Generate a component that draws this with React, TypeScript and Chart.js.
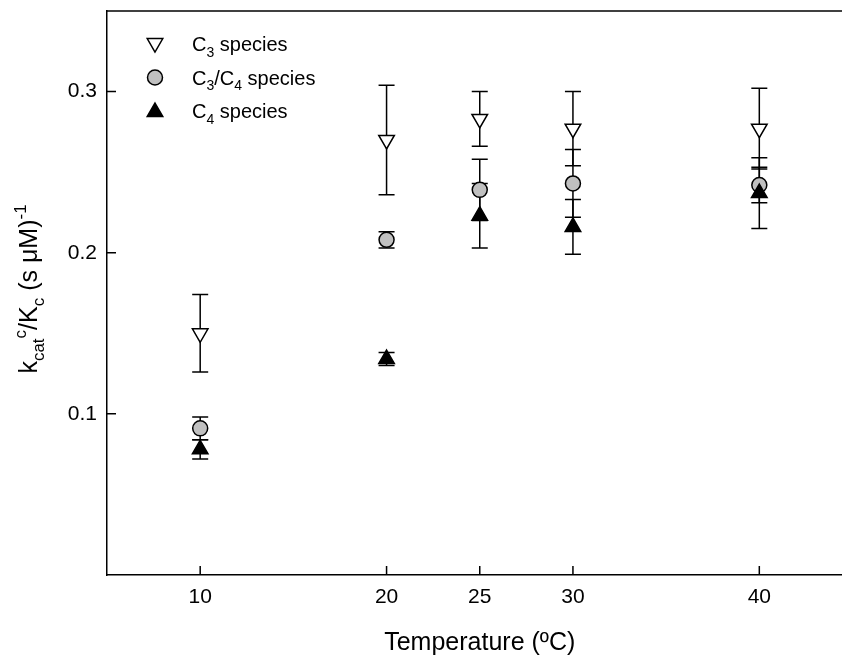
import React, { useEffect, useRef } from 'react';
import { Chart, registerables } from 'chart.js';

Chart.register(...registerables);

// ---------- data ----------
const temperatures = [10, 20, 25, 30, 40];

const c3Mean = [0.15, 0.27, 0.283, 0.277, 0.277];
const c3Err = [0.024, 0.034, 0.017, 0.023, 0.025];

const c3c4Mean = [0.091, 0.208, 0.239, 0.243, 0.242];
const c3c4Err = [0.007, 0.005, 0.019, 0.021, 0.011];

const c4Mean = [0.078, 0.134, 0.223, 0.216, 0.237];
const c4Err = [0.006, 0.004, 0.02, 0.017, 0.022];

const xTickValues = [10, 20, 25, 30, 40];
const yTickValues = [0.1, 0.2, 0.3];

const seriesNames = ['C3 species', 'C3/C4 species', 'C4 species'];
// rich-text legend pieces (n = normal, sub = subscript)
const legendPieces = [
  [['C', 'n'], ['3', 'sub'], [' species', 'n']],
  [['C', 'n'], ['3', 'sub'], ['/C', 'n'], ['4', 'sub'], [' species', 'n']],
  [['C', 'n'], ['4', 'sub'], [' species', 'n']],
];
const yTitlePieces = [
  ['k', 'n'], ['cat', 'sub'], ['c', 'sup'], ['/K', 'n'], ['c', 'sub'], [' (s \u03BCM)', 'n'], ['-1', 'sup'],
];
const xTitle = 'Temperature (\u00BAC)';

const FONT = '"Liberation Sans", Arial, Helvetica, sans-serif';

type Piece = [string, string];

function richWidth(ctx: CanvasRenderingContext2D, pieces: Piece[], size: number) {
  let w = 0;
  for (const [t, k] of pieces) {
    const s = k === 'n' ? size : Math.round(size * 0.68);
    ctx.font = `${s}px ${FONT}`;
    w += ctx.measureText(t).width;
  }
  return w;
}

function drawRich(ctx: CanvasRenderingContext2D, pieces: Piece[], x: number, y: number, size: number) {
  let cx = x;
  ctx.textAlign = 'left';
  ctx.textBaseline = 'alphabetic';
  for (const [t, k] of pieces) {
    const s = k === 'n' ? size : Math.round(size * 0.68);
    ctx.font = `${s}px ${FONT}`;
    let dy = 0;
    if (k === 'sub') dy = size * 0.28;
    if (k === 'sup') dy = -size * 0.45;
    ctx.fillText(t, cx, y + dy);
    cx += ctx.measureText(t).width;
  }
}

function drawMarker(ctx: CanvasRenderingContext2D, style: string, x: number, y: number, r: number, fill: string) {
  ctx.beginPath();
  if (style === 'circle') {
    ctx.arc(x, y, r, 0, Math.PI * 2);
  } else {
    const down = style === 'triangleDown';
    let rad = down ? Math.PI : 0;
    const step = (2 * Math.PI) / 3;
    ctx.moveTo(x + Math.sin(rad) * r, y - Math.cos(rad) * r);
    rad += step;
    ctx.lineTo(x + Math.sin(rad) * r, y - Math.cos(rad) * r);
    rad += step;
    ctx.lineTo(x + Math.sin(rad) * r, y - Math.cos(rad) * r);
    ctx.closePath();
  }
  ctx.fillStyle = fill;
  ctx.fill();
  ctx.lineWidth = 1.5;
  ctx.strokeStyle = '#000';
  ctx.stroke();
}

const errorBarPlugin = {
  id: 'errorBars',
  beforeDatasetsDraw(chart: any) {
    const ctx = chart.ctx as CanvasRenderingContext2D;
    const xs = chart.scales.x;
    const ys = chart.scales.y;
    ctx.save();
    ctx.strokeStyle = '#000';
    ctx.lineWidth = 1.5;
    chart.data.datasets.forEach((ds: any) => {
      ds.data.forEach((d: any) => {
        const x = xs.getPixelForValue(d.x);
        const yt = ys.getPixelForValue(d.y + d.err);
        const yb = ys.getPixelForValue(d.y - d.err);
        ctx.beginPath();
        ctx.moveTo(x, yt);
        ctx.lineTo(x, yb);
        ctx.moveTo(x - 8, yt);
        ctx.lineTo(x + 8, yt);
        ctx.moveTo(x - 8, yb);
        ctx.lineTo(x + 8, yb);
        ctx.stroke();
      });
    });
    ctx.restore();
  },
};

const framePlugin = {
  id: 'frame',
  afterDraw(chart: any) {
    const ctx = chart.ctx as CanvasRenderingContext2D;
    const { left, right, top, bottom } = chart.chartArea;
    const xs = chart.scales.x;
    const ys = chart.scales.y;
    ctx.save();
    ctx.strokeStyle = '#000';
    ctx.lineWidth = 1.5;
    // top border
    ctx.beginPath();
    ctx.moveTo(left, top);
    ctx.lineTo(right, top);
    ctx.stroke();
    // inward ticks
    ctx.beginPath();
    xTickValues.forEach((v) => {
      const x = xs.getPixelForValue(v);
      ctx.moveTo(x, bottom);
      ctx.lineTo(x, bottom - 9);
    });
    yTickValues.forEach((v) => {
      const y = ys.getPixelForValue(v);
      ctx.moveTo(left, y);
      ctx.lineTo(left + 9, y);
    });
    ctx.stroke();

    // y-axis title
    ctx.fillStyle = '#000';
    const size = 25;
    const w = richWidth(ctx, yTitlePieces as Piece[], size);
    ctx.save();
    ctx.translate(37, (top + bottom) / 2 - 4);
    ctx.rotate(-Math.PI / 2);
    drawRich(ctx, yTitlePieces as Piece[], -w / 2, 0, size);
    ctx.restore();

    // legend
    const styles = ['triangleDown', 'circle', 'triangle'];
    const fills = ['#ffffff', '#c0c0c0', '#000000'];
    const radii = [9, 7.5, 9];
    legendPieces.forEach((pieces, i) => {
      const cy = top + 33 + i * 33.5;
      const mx = left + 48;
      drawMarker(ctx, styles[i], mx, cy + (i === 0 ? -1 : i === 2 ? 1 : 0), radii[i], fills[i]);
      ctx.fillStyle = '#000';
      drawRich(ctx, pieces as Piece[], left + 85, cy + 7, 20);
    });
    ctx.restore();
  },
};

export default function App() {
  const canvasRef = useRef<HTMLCanvasElement | null>(null);

  useEffect(() => {
    document.body.style.margin = '0';
    const canvas = canvasRef.current;
    if (!canvas) return;

    const mk = (mean: number[], err: number[]) =>
      temperatures.map((t, i) => ({ x: t, y: mean[i], err: err[i] }));

    const chart = new Chart(canvas, {
      type: 'scatter',
      data: {
        datasets: [
          {
            label: seriesNames[0],
            data: mk(c3Mean, c3Err),
            pointStyle: 'triangle',
            rotation: 180,
            pointRadius: 9,
            backgroundColor: '#ffffff',
            borderColor: '#000000',
            pointBorderWidth: 1.5,
            order: 3,
          },
          {
            label: seriesNames[1],
            data: mk(c3c4Mean, c3c4Err),
            pointStyle: 'circle',
            pointRadius: 7.5,
            backgroundColor: '#c0c0c0',
            borderColor: '#000000',
            pointBorderWidth: 1.5,
            order: 2,
          },
          {
            label: seriesNames[2],
            data: mk(c4Mean, c4Err),
            pointStyle: 'triangle',
            pointRadius: 9,
            backgroundColor: '#000000',
            borderColor: '#000000',
            pointBorderWidth: 1.5,
            order: 1,
          },
        ] as any,
      },
      options: {
        animation: false,
        responsive: false,
        maintainAspectRatio: false,
        devicePixelRatio: 1,
        layout: { padding: { top: 11, right: 4, left: 0, bottom: 0 } },
        plugins: {
          legend: { display: false },
          tooltip: { enabled: false },
        },
        scales: {
          x: {
            type: 'linear',
            min: 5,
            max: 45,
            afterBuildTicks: (s: any) => {
              s.ticks = xTickValues.map((v) => ({ value: v }));
            },
            afterFit: (s: any) => {
              s.height = 83;
              s.paddingLeft = 0;
              s.paddingRight = 0;
            },
            grid: { display: false, drawTicks: false },
            border: { display: true, color: '#000', width: 1.5 },
            ticks: {
              color: '#000',
              padding: 10,
              maxRotation: 0,
              autoSkip: false,
              font: { family: FONT, size: 21 },
              callback: (v: any) => String(v),
            },
            title: {
              display: true,
              text: xTitle,
              color: '#000',
              font: { family: FONT, size: 25 },
              padding: { top: 0, bottom: 0 },
            },
          },
          y: {
            type: 'linear',
            min: 0,
            max: 0.35,
            afterBuildTicks: (s: any) => {
              s.ticks = yTickValues.map((v) => ({ value: v }));
            },
            afterFit: (s: any) => {
              s.width = 107;
              s.paddingTop = 0;
              s.paddingBottom = 0;
            },
            grid: { display: false, drawTicks: false },
            border: { display: true, color: '#000', width: 1.5 },
            ticks: {
              color: '#000',
              padding: 10,
              autoSkip: false,
              font: { family: FONT, size: 21 },
              callback: (v: any) => Number(v).toFixed(1),
            },
          },
        },
      },
      plugins: [errorBarPlugin, framePlugin],
    });

    return () => chart.destroy();
  }, []);

  return (
    <div
      style={{
        position: 'fixed',
        left: 0,
        top: 0,
        width: 842,
        height: 658,
        overflow: 'hidden',
        background: '#fff',
      }}
    >
      <canvas ref={canvasRef} width={863} height={658} style={{ display: 'block' }} />
    </div>
  );
}
